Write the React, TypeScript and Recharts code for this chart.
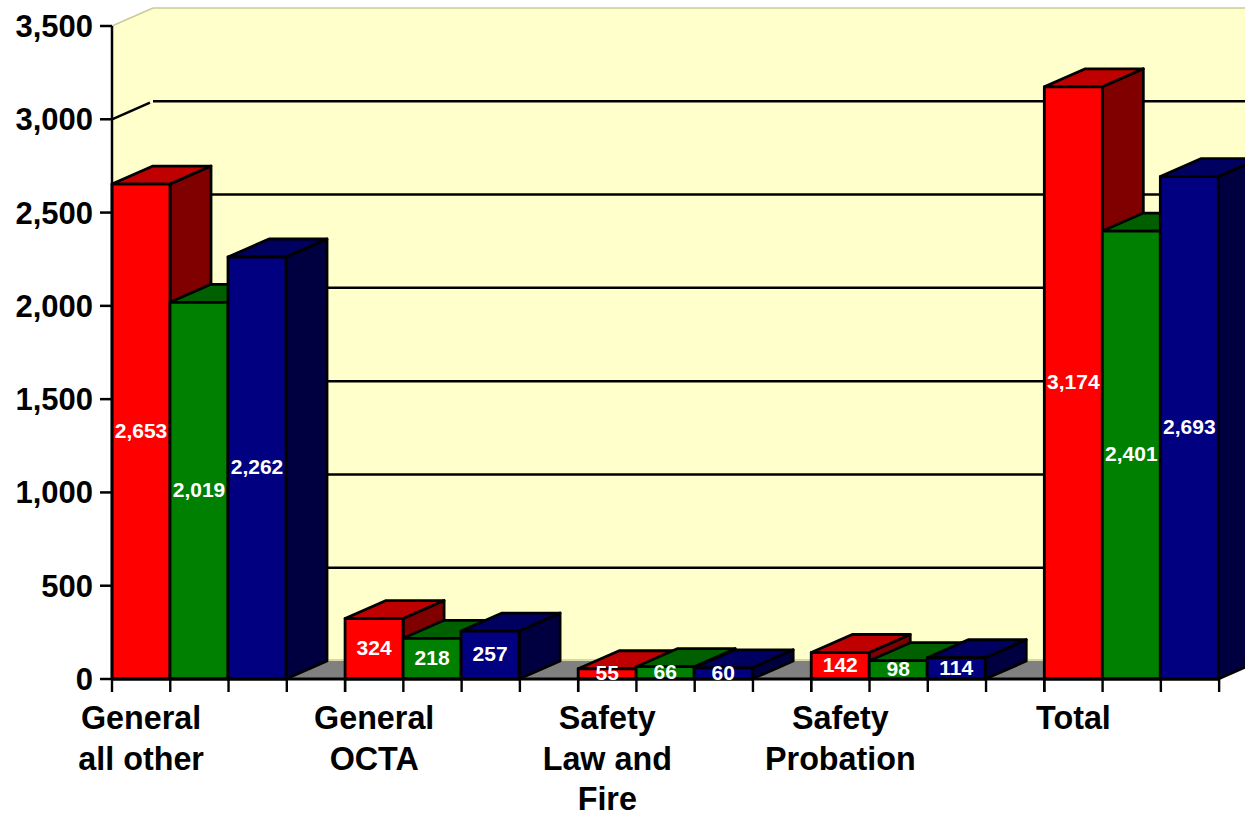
import React from "react";
import { BarChart, Bar, XAxis, YAxis, LabelList, ReferenceArea, ReferenceLine } from "recharts";

const categories = ["General\nall other", "General\nOCTA", "Safety\nLaw and\nFire", "Safety\nProbation", "Total"];
const redValues = [2653, 324, 55, 142, 3174];
const greenValues = [2019, 218, 66, 98, 2401];
const blueValues = [2262, 257, 60, 114, 2693];
const yTicks = [0, 500, 1000, 1500, 2000, 2500, 3000, 3500];

const data = categories.map((name, i) => ({
  name,
  red: redValues[i],
  green: greenValues[i],
  blue: blueValues[i],
}));

const CHART_W = 1300;
const CHART_H = 814;
const LEFT = 112;
const RIGHT_MARGIN = CHART_W - 1277.4;
const TOP = 26;
const BOTTOM = 679;
const DX = 41;
const DY = 18;
const SLOT = (CHART_W - RIGHT_MARGIN - LEFT) / categories.length / 4;
const FRONT_RIGHT = LEFT + (categories.length * 4 - 1) * SLOT;
const FONT = "'Liberation Sans', Arial, sans-serif";
const EDGE = 2.8;

function Box3D(props: any) {
  const { x, y, width, height, front, topFace, side } = props;
  if (!width || !Number.isFinite(height) || !Number.isFinite(y)) return null;
  const r = x + width;
  const b = y + height;
  const common = { stroke: "#000", strokeWidth: EDGE, strokeLinejoin: "round" as const };
  return (
    <g>
      <polygon points={`${r},${y} ${r + DX},${y - DY} ${r + DX},${b - DY} ${r},${b}`} fill={side} {...common} />
      <polygon points={`${x},${y} ${x + DX},${y - DY} ${r + DX},${y - DY} ${r},${y}`} fill={topFace} {...common} />
      <rect x={x} y={y} width={width} height={height} fill={front} {...common} />
    </g>
  );
}

function Walls(props: any) {
  const { y, height } = props;
  const b = y + height;
  const wallEdge = { stroke: "#CBCB99", strokeWidth: 1.5 };
  return (
    <g>
      <polygon points={`${LEFT},${y} ${LEFT + DX},${y - DY} ${LEFT + DX},${b - DY} ${LEFT},${b}`} fill="#FFFFCC" />
      <rect x={LEFT + DX} y={y - DY} width={CHART_W} height={height} fill="#FFFFCC" />
      <polygon points={`${LEFT},${b} ${LEFT + DX},${b - DY} ${FRONT_RIGHT + DX},${b - DY} ${FRONT_RIGHT},${b}`} fill="#808080" />
      <line x1={LEFT + DX} y1={b - DY - 1} x2={CHART_W} y2={b - DY - 1} {...wallEdge} />
      <line x1={LEFT + DX} y1={y - DY} x2={CHART_W} y2={y - DY} {...wallEdge} />
      <line x1={LEFT} y1={y} x2={LEFT + DX} y2={y - DY} {...wallEdge} />
    </g>
  );
}

function GridLine(props: any) {
  const y = props.y1 ?? props.y;
  return (
    <g stroke="#000" strokeWidth={2.5} fill="none">
      <line x1={LEFT} y1={y} x2={LEFT + DX - 3} y2={y - DY + 1.3} />
      <line x1={LEFT + DX} y1={y - DY} x2={CHART_W} y2={y - DY} />
    </g>
  );
}

function CategoryTick(props: any) {
  const { x, payload, index } = props;
  const start = x - 2 * SLOT;
  const isLast = payload.value === categories[categories.length - 1] || index === categories.length - 1;
  const slots = isLast ? 3 : 4;
  const marks = Array.from({ length: slots + 1 }, (_, k) => start + k * SLOT);
  const lines = String(payload.value).split("\n");
  return (
    <g>
      <line x1={start} y1={BOTTOM} x2={start + slots * SLOT} y2={BOTTOM} stroke="#000" strokeWidth={2.8} />
      {marks.map((m) => (
        <line key={m} x1={m} y1={BOTTOM} x2={m} y2={BOTTOM + 13} stroke="#000" strokeWidth={2.4} />
      ))}
      {lines.map((line, i) => (
        <text key={line} x={start + SLOT / 2} y={729 + i * 40.5} textAnchor="middle" fontFamily={FONT} fontWeight={700} fontSize={32.3} fill="#000">
          {line}
        </text>
      ))}
    </g>
  );
}

const fmt = (v: any) => (typeof v === "number" ? v.toLocaleString("en-US") : "");

const series = [
  { key: "red", front: "#FF0000", topFace: "#BF0000", side: "#800000" },
  { key: "green", front: "#008000", topFace: "#006000", side: "#004000" },
  { key: "blue", front: "#000080", topFace: "#000060", side: "#000040" },
];

export default function App() {
  return (
    <div style={{ position: "absolute", left: 0, top: 0, width: 1245, height: 814, overflow: "hidden" }}>
      <BarChart
        width={CHART_W}
        height={CHART_H}
        data={data}
        barCategoryGap={0}
        barGap={0}
        margin={{ top: TOP, right: RIGHT_MARGIN, bottom: 0, left: 0 }}
      >
        <XAxis dataKey="name" height={CHART_H - BOTTOM} axisLine={false} tickLine={false} interval={0} tick={<CategoryTick />} zIndex={2000} />
        <YAxis
          width={LEFT}
          domain={[0, 3500]}
          ticks={yTicks}
          interval={0}
          tickFormatter={fmt}
          tickSize={12}
          tickMargin={7}
          axisLine={{ stroke: "#000", strokeWidth: 2.5 }}
          tickLine={{ stroke: "#000", strokeWidth: 2.5 }}
          tick={{ fill: "#000", fontFamily: FONT, fontWeight: 700, fontSize: 31 }}
        />
        <ReferenceArea y1={0} y2={3500} ifOverflow="visible" shape={<Walls />} zIndex={100} />
        {yTicks.slice(1, -1).map((t) => (
          <ReferenceLine key={t} y={t} ifOverflow="visible" shape={<GridLine />} zIndex={200} />
        ))}
        {series.map((s) => (
          <Bar
            key={s.key}
            dataKey={s.key}
            isAnimationActive={false}
            fill={s.front}
            shape={<Box3D front={s.front} topFace={s.topFace} side={s.side} />}
          >
            <LabelList dataKey={s.key} position="center" formatter={fmt} fill="#fff" fontFamily={FONT} fontWeight={700} fontSize={21} dy={-1} />
          </Bar>
        ))}
        <Bar dataKey="gapSlot" isAnimationActive={false} legendType="none" />
      </BarChart>
    </div>
  );
}
